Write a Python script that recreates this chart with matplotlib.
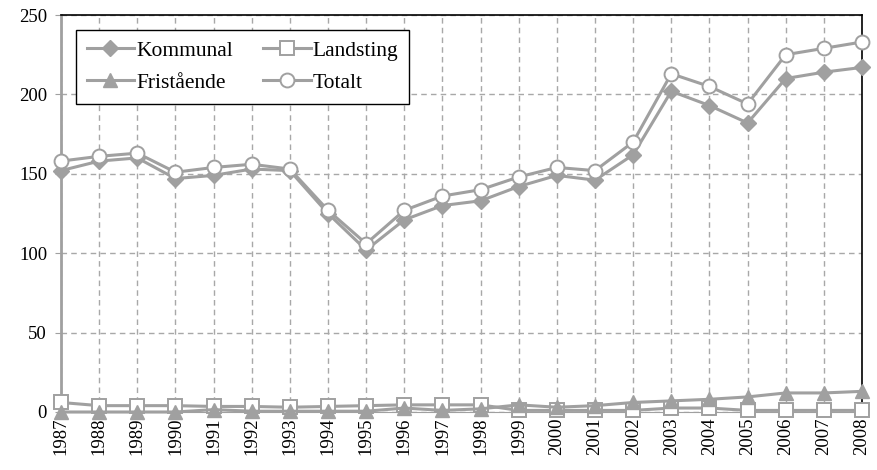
import matplotlib
matplotlib.use("Agg")
import matplotlib.pyplot as plt

years = list(range(1987, 2009))
kommunal = [152, 158, 160, 147, 149, 153, 152, 125, 102, 121, 130, 133, 142, 149, 146, 162, 202, 193, 182, 210, 214, 217]
landsting = [6, 4, 4, 4, 3.5, 3.5, 3, 3.5, 4, 4.5, 4.5, 4.5, 1, 1, 1, 1, 2.5, 2.5, 1, 1, 1, 1]
fristaende = [0, 0, 0, 0, 1.5, 0.5, 0.5, 0.5, 0.5, 2.5, 1, 2, 4.5, 3, 4, 6, 7, 8, 9.5, 12, 12, 13]
totalt = [158, 161, 163, 151, 154, 156, 153, 127, 106, 127, 136, 140, 148, 154, 152, 170, 213, 205, 194, 225, 229, 233]
labels = ["Kommunal", "Landsting", "Fristående", "Totalt"]

plt.rcParams['font.family'] = ['Liberation Serif', 'DejaVu Serif']
gray = '#a0a0a0'

fig = plt.figure(figsize=(8.77, 4.70), dpi=100)
ax = fig.add_axes([61/877, 1-412/470, (862-61)/877, (412-15)/470])

common = dict(color=gray, lw=2.2, clip_on=False, zorder=3)
hk, = ax.plot(years, kommunal, marker='D', ms=8, mfc=gray, mec=gray, label=labels[0], **common)
hl, = ax.plot(years, landsting, marker='s', ms=10, mfc='white', mec=gray, mew=1.4, label=labels[1], **common)
hf, = ax.plot(years, fristaende, marker='^', ms=10, mfc=gray, mec=gray, label=labels[2], **common)
ht, = ax.plot(years, totalt, marker='o', ms=10, mfc='white', mec=gray, mew=1.4, label=labels[3], **common)

ax.set_xlim(1987, 2008)
ax.set_ylim(0, 250)
ax.set_yticks(range(0, 251, 50))
ax.set_xticks(years)
ax.set_xticklabels([str(y) for y in years], rotation=90, fontsize=13.5)
ax.tick_params(axis='y', labelsize=13.5, length=4, color=gray, pad=6)
ax.tick_params(axis='x', length=0, pad=4)
ax.grid(True, color='#a8a8a8', linestyle=(0, (4, 3)), lw=1.0)
ax.set_axisbelow(True)
for s in ['top', 'right']:
    ax.spines[s].set_color('black')
    ax.spines[s].set_linewidth(1.2)
ax.spines['left'].set_color(gray)
ax.spines['left'].set_linewidth(2)
ax.spines['bottom'].set_color(gray)

leg = ax.legend([hk, hf, hl, ht], [labels[0], labels[2], labels[1], labels[3]],
                ncol=2, loc='upper left', bbox_to_anchor=(15/801, 382/397), borderaxespad=0,
                fontsize=15.5,
                frameon=True, fancybox=False, edgecolor='black', framealpha=1,
                handlelength=2.2, columnspacing=1.4, handletextpad=0.1, borderpad=0.5,
                labelspacing=0.55)
leg.get_frame().set_linewidth(1.0)

fig.savefig("out.png", dpi=100)
